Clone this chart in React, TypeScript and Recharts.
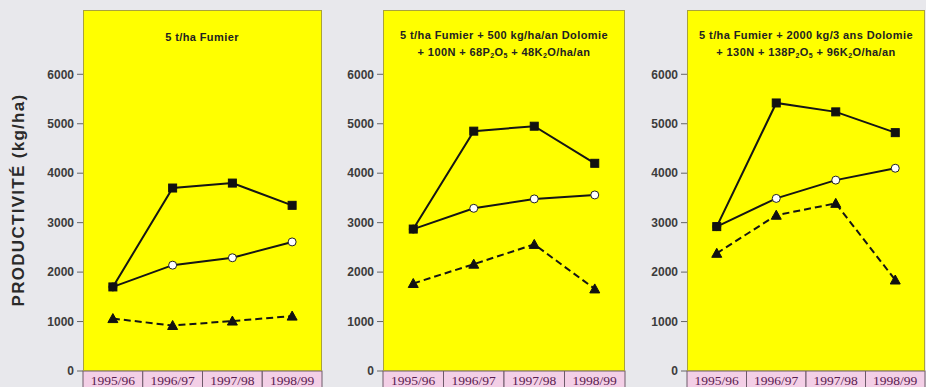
import React from "react";
import { LineChart, Line, XAxis, YAxis, CartesianGrid } from "recharts";

const YEARS = ["1995/96", "1996/97", "1997/98", "1998/99"];
const Y_TICKS = [0, 1000, 2000, 3000, 4000, 5000, 6000];

const p1Square = [1700, 3700, 3800, 3350];
const p1Circle = [1700, 2140, 2290, 2610];
const p1Triangle = [1060, 920, 1010, 1110];

const p2Square = [2870, 4850, 4950, 4200];
const p2Circle = [2870, 3290, 3480, 3560];
const p2Triangle = [1770, 2160, 2560, 1660];

const p3Square = [2920, 5420, 5240, 4820];
const p3Circle = [2920, 3490, 3860, 4100];
const p3Triangle = [2380, 3150, 3390, 1840];

const Y_LABEL = "PRODUCTIVITÉ (kg/ha)";

const build = (sq: number[], ci: number[], tr: number[]) =>
  YEARS.map((year, i) => ({ year, sq: sq[i], ci: ci[i], tr: tr[i] }));

const NARROW = "'Liberation Sans Narrow', 'Arial Narrow', 'Liberation Sans', Arial, sans-serif";
const SERIF = "'Liberation Serif', 'Times New Roman', serif";
const LINE = "#151515";

const SquareDot = (props: any) => {
  const { cx, cy } = props;
  if (cx == null || cy == null) return null;
  return <rect x={cx - 4} y={cy - 4} width={8} height={8} fill="#111" stroke="#111" />;
};
const CircleDot = (props: any) => {
  const { cx, cy } = props;
  if (cx == null || cy == null) return null;
  return <circle cx={cx} cy={cy} r={4} fill="#fff" stroke="#222" strokeWidth={1} />;
};
const TriDot = (props: any) => {
  const { cx, cy } = props;
  if (cx == null || cy == null) return null;
  return <polygon points={`${cx},${cy - 5} ${cx + 5},${cy + 4} ${cx - 5},${cy + 4}`} fill="#111" stroke="#111" />;
};

const makeXTick = (band: number) => (props: any) => {
  const { x, y, payload } = props;
  return (
    <g>
      <rect x={x - band / 2} y={y} width={band} height={22} fill="#f3cfe6" stroke="#6e5a6a" strokeWidth={1} />
      <text x={x} y={y + 14} textAnchor="middle" fontSize={13.5} fill="#5a2050" fontFamily={SERIF}>
        {payload.value}
      </text>
    </g>
  );
};

type PanelProps = {
  left: number;
  width: number;
  yAxisWidth: number;
  right: number;
  sq: number[];
  ci: number[];
  tr: number[];
};

const Panel = ({ left, width, yAxisWidth, right, sq, ci, tr }: PanelProps) => {
  const plotW = width - yAxisWidth - right;
  const band = plotW / YEARS.length;
  const data = build(sq, ci, tr);
  return (
    <div style={{ position: "absolute", left, top: 0 }}>
      <LineChart width={width} height={400} data={data} margin={{ top: 10, right, bottom: 0, left: 0 }}>
        <CartesianGrid horizontal={false} vertical={false} fill="#ffff00" fillOpacity={1} stroke="none" />
        <XAxis
          dataKey="year"
          height={29}
          axisLine={false}
          tickLine={false}
          tickSize={0}
          tickMargin={0}
          interval={0}
          padding={{ left: band / 2, right: band / 2 }}
          tick={makeXTick(band)}
        />
        <YAxis
          width={yAxisWidth}
          domain={[0, 7300]}
          ticks={Y_TICKS}
          interval={0}
          axisLine={false}
          tickSize={6}
          tickMargin={3}
          tickLine={{ stroke: "#666" }}
          tick={{ fontSize: 12, fontWeight: "bold", fill: "#3c3c3c", fontFamily: NARROW }}
        />
        <Line dataKey="tr" stroke={LINE} strokeWidth={2} strokeDasharray="7 4" dot={<TriDot />} isAnimationActive={false} />
        <Line dataKey="ci" stroke={LINE} strokeWidth={2} dot={<CircleDot />} isAnimationActive={false} />
        <Line dataKey="sq" stroke={LINE} strokeWidth={2} dot={<SquareDot />} isAnimationActive={false} />
      </LineChart>
    </div>
  );
};

const titleStyle: React.CSSProperties = {
  position: "absolute",
  textAlign: "center",
  fontFamily: NARROW,
  fontWeight: "bold",
  fontSize: 11,
  lineHeight: "17px",
  color: "#222",
  whiteSpace: "nowrap",
  letterSpacing: 0.4,
  transform: "translateX(-50%)",
  pointerEvents: "none",
};

const Sub = ({ children }: { children: React.ReactNode }) => (
  <span style={{ fontSize: 7, verticalAlign: "-2px" }}>{children}</span>
);

const boxStyle = (left: number, width: number): React.CSSProperties => ({
  position: "absolute",
  left,
  top: 10,
  width,
  height: 361,
  boxSizing: "border-box",
  border: "1.5px solid #a9a23c",
  pointerEvents: "none",
});

export default function App() {
  return (
    <div
      style={{
        position: "absolute",
        left: 0,
        top: 0,
        width: 926,
        height: 387,
        overflow: "hidden",
        background: "#e8e8ec",
      }}
    >
      <Panel left={0} width={326} yAxisWidth={83} right={4} sq={p1Square} ci={p1Circle} tr={p1Triangle} />
      <Panel left={326} width={303} yAxisWidth={57} right={4} sq={p2Square} ci={p2Circle} tr={p2Triangle} />
      <Panel left={630} width={296} yAxisWidth={57} right={1} sq={p3Square} ci={p3Circle} tr={p3Triangle} />

      <div style={boxStyle(83, 239)} />
      <div style={boxStyle(383, 242)} />
      <div style={boxStyle(687, 238)} />

      <div style={{ ...titleStyle, left: 202, top: 29 }}>5 t/ha Fumier</div>
      <div style={{ ...titleStyle, left: 504, top: 27 }}>
        5 t/ha Fumier + 500 kg/ha/an Dolomie
        <br />+ 100N + 68P<Sub>2</Sub>O<Sub>5</Sub> + 48K<Sub>2</Sub>O/ha/an
      </div>
      <div style={{ ...titleStyle, left: 806, top: 27 }}>
        5 t/ha Fumier + 2000 kg/3 ans Dolomie
        <br />+ 130N + 138P<Sub>2</Sub>O<Sub>5</Sub> + 96K<Sub>2</Sub>O/ha/an
      </div>

      <div
        style={{
          position: "absolute",
          left: 19,
          top: 200,
          transform: "translate(-50%, -50%) rotate(-90deg)",
          fontFamily: "'Liberation Sans', Arial, sans-serif",
          fontWeight: "bold",
          fontSize: 17,
          letterSpacing: 1.3,
          color: "#2a2a2a",
          whiteSpace: "nowrap",
        }}
      >
        {Y_LABEL}
      </div>
    </div>
  );
}
